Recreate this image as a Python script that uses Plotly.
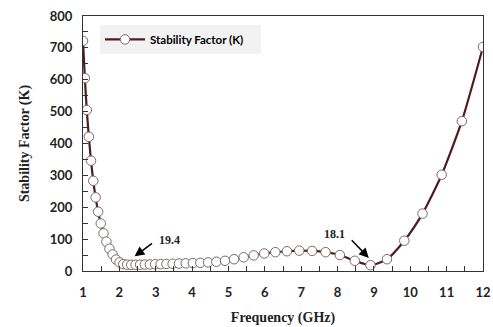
import plotly.graph_objects as go

freq_ghz = [1.000, 1.051, 1.104, 1.161, 1.220, 1.282, 1.347, 1.416, 1.488, 1.564,
            1.644, 1.727, 1.815, 1.908, 2.005, 2.107, 2.215, 2.327, 2.446, 2.570,
            2.701, 2.839, 2.984, 3.136, 3.295, 3.464, 3.640, 3.826, 4.021, 4.226,
            4.441, 4.667, 4.905, 5.155, 5.418, 5.694, 5.984, 6.289, 6.609, 6.946,
            7.300, 7.672, 8.063, 8.474, 8.906, 9.359, 9.836, 10.337, 10.864, 11.418,
            12.000]
stability_k = [722, 605, 505, 421, 346, 283, 231, 186, 149, 118,
               92, 70, 52, 36, 27, 21.5, 19.8, 19.4, 19.5, 19.8,
               20.2, 20.6, 21.1, 21.6, 22.1, 22.7, 23.3, 24.0, 24.8, 25.6,
               27, 29, 32, 37, 43, 49, 55, 59, 62, 64,
               63, 59, 50, 32, 18.1, 37, 95, 180, 302, 470,
               703]

x_ticks = list(range(1, 13))
y_ticks = list(range(0, 801, 100))

series_name = "Stability Factor (K)"
x_title = "Frequency (GHz)"
y_title = "Stability Factor (K)"

# annotations: (label, text_x, text_y, arrow_tail_x, arrow_tail_y, tip_x, tip_y)
notes = [
    ("19.4", 3.38, 98, 2.94, 90, 2.42, 46),
    ("18.1", 7.91, 117, 8.35, 101, 8.86, 41),
]

fig = go.Figure()
fig.add_trace(go.Scatter(
    x=freq_ghz, y=stability_k, mode="lines+markers", name=series_name,
    line=dict(color="#4f1c1c", width=2.2, shape="spline", smoothing=0.6),
    marker=dict(symbol="circle", size=9.5, color="white",
                line=dict(color="#7a6a6a", width=1)),
))

serif = "Liberation Serif"
sans = "Lato"

for label, tx, ty, ax_, ay_, hx, hy in notes:
    fig.add_annotation(x=hx, y=hy, ax=ax_, ay=ay_, xref="x", yref="y",
                       axref="x", ayref="y", text="", showarrow=True,
                       arrowhead=2, arrowsize=1.3, arrowwidth=1.5,
                       arrowcolor="black")
    fig.add_annotation(x=tx, y=ty, xref="x", yref="y", text="<b>%s</b>" % label,
                       showarrow=False,
                       font=dict(family=serif, size=12, color="#222"))

fig.update_layout(
    width=493, height=327,
    margin=dict(l=83, r=10, t=16, b=56),
    paper_bgcolor="white", plot_bgcolor="white",
    showlegend=True,
    legend=dict(x=0.0425, y=0.965, xanchor="left", yanchor="top",
                orientation="h", entrywidth=106, entrywidthmode="pixels",
                bgcolor="#f2f2f2", borderwidth=0,
                font=dict(family=sans, size=11.5, color="black", weight="bold"),
                itemwidth=40, tracegroupgap=0),
    xaxis=dict(range=[1, 12], tickvals=x_ticks, ticks="inside", ticklen=5,
               tickcolor="#333", showgrid=False, zeroline=False, automargin=False,
               showline=True, linecolor="#333", linewidth=1.3, mirror=True,
               ticklabelstandoff=9,
               minor=dict(ticks="inside", dtick=0.5, ticklen=5, tickcolor="#333"),
               tickfont=dict(family=sans, size=13, color="#222", weight="bold"),
               title=dict(text="<b>%s</b>" % x_title, standoff=13,
                          font=dict(family=serif, size=14, color="#222"))),
    yaxis=dict(range=[0, 800], tickvals=y_ticks, ticks="inside", ticklen=5,
               tickcolor="#333", showgrid=False, zeroline=False, automargin=False,
               showline=True, linecolor="#333", linewidth=1.3, mirror=True,
               ticklabelstandoff=7,
               minor=dict(ticks="inside", dtick=50, ticklen=5, tickcolor="#333"),
               tickfont=dict(family=sans, size=13, color="#222", weight="bold"),
               title=dict(text="<b>%s</b>" % y_title, standoff=16,
                          font=dict(family=serif, size=14, color="#222"))),
)

fig.write_html("out.html", post_script="document.body.style.margin='0';",
               config={"displayModeBar": False})
